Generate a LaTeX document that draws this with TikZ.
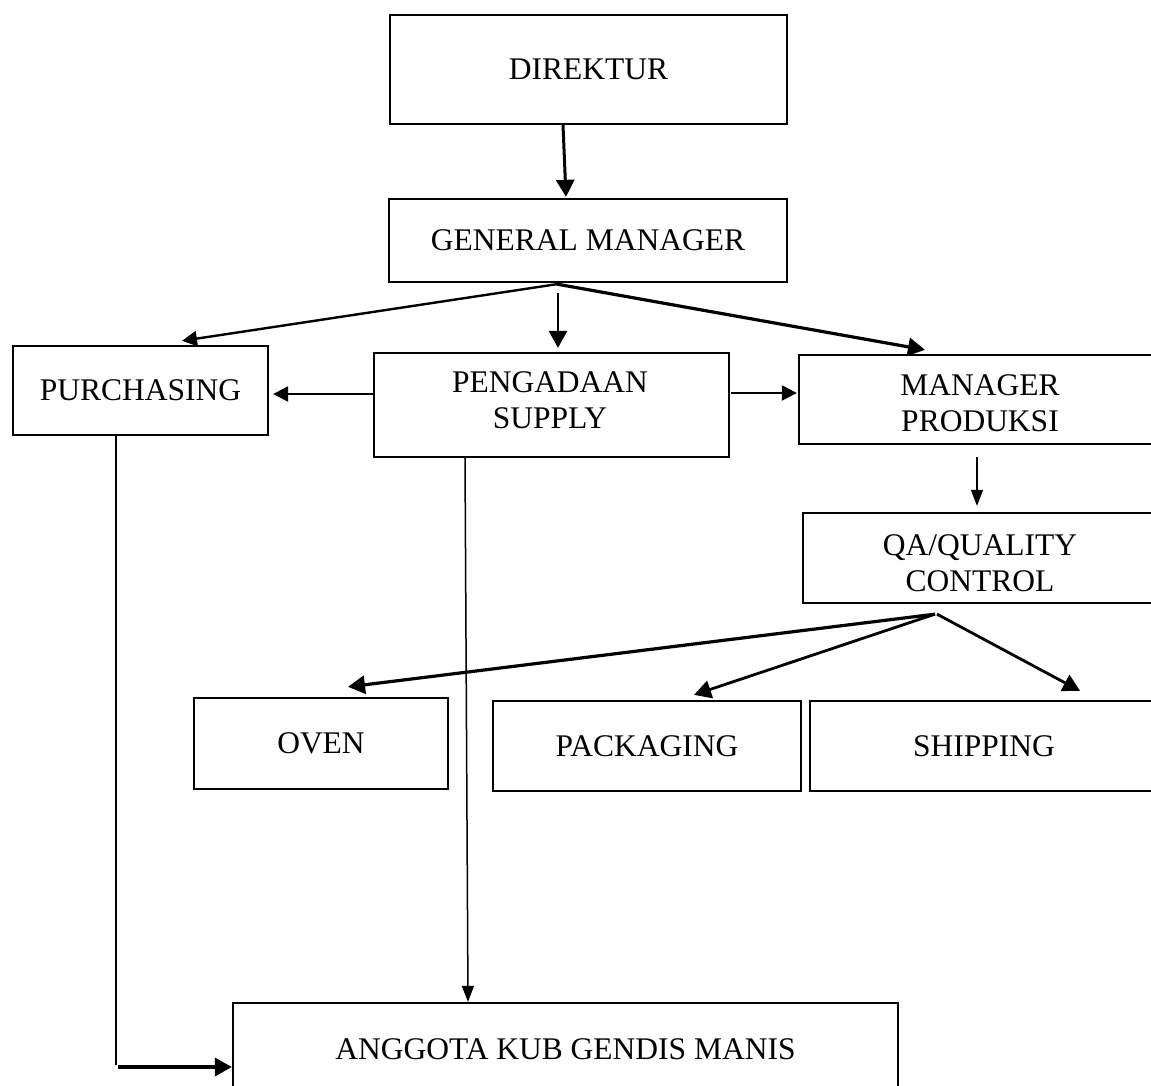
\documentclass[tikz,border=0pt]{standalone}
\usepackage{fontspec}
\setmainfont{Liberation Serif}
\usetikzlibrary{arrows.meta,calc}
\begin{document}
\begin{tikzpicture}[x=1pt,y=-1pt,
  box/.style={draw,line width=2.3pt,inner sep=0pt,align=center,font=\fontsize{31.5}{36}\selectfont},
  txt/.style={font=\fontsize{31.5}{36}\selectfont,align=center,inner sep=0pt},
  tip/.style={-{Triangle[length=17pt,width=18pt]}},
  tipmd/.style={-{Triangle[length=15pt,width=15pt]}},
  tipsm/.style={-{Triangle[length=16pt,width=12pt]}}]
\clip (0,0) rectangle (1151,1086);
\fill[white] (0,0) rectangle (1151,1086);
% boxes
\node[box,minimum width=397pt,minimum height=109pt] (dir) at (588.5,69.5) {DIREKTUR};
\node[box,minimum width=398pt,minimum height=83pt] (gm) at (588,240.5) {GENERAL MANAGER};
\node[box,minimum width=255pt,minimum height=89pt] (pur) at (140.5,390.5) {PURCHASING};
\node[box,minimum width=355pt,minimum height=104pt] (pen) at (551.5,405) {};
\node[txt] at (550,400) {PENGADAAN\\SUPPLY};
\node[box,minimum width=359pt,minimum height=89pt] (mp) at (978.5,399.5) {};
\node[txt] at (980,403) {MANAGER\\PRODUKSI};
\node[box,minimum width=355pt,minimum height=90pt] (qa) at (980.5,558) {};
\node[txt] at (980,563) {QA/QUALITY\\CONTROL};
\node[box,minimum width=254pt,minimum height=91pt] (oven) at (321,743.5) {OVEN};
\node[box,minimum width=308pt,minimum height=90pt] (pack) at (647,746) {PACKAGING};
\node[box,minimum width=348pt,minimum height=90pt] (ship) at (984,746) {SHIPPING};
\node[box,minimum width=665pt,minimum height=92pt] (ang) at (565.5,1049) {ANGGOTA KUB GENDIS MANIS};
% connectors
\draw[tip,line width=3pt] ($(dir.south)+(-25.5,0)$) -- ($(gm.north)+(-22,-1)$);
\coordinate (gmo) at ($(gm.south)+(-31,1)$);
\draw[tipmd,line width=2.4pt] (gmo) -- ($(pur.north)+(41.5,-4)$);
\draw[tip,line width=2.8pt] ($(gm.south)+(-30,10)$) -- ($(pen.north)+(6.5,-4)$);
\draw[tip,line width=3.2pt] (gmo) -- ($(mp.north)+(-53.5,-4)$);
\coordinate (a1) at ($(pen.west)+(0,-11)$);
\draw[tipmd,line width=2.2pt,shorten >=4pt] (a1) -- (a1 -| pur.east);
\coordinate (a2) at ($(pen.east)+(1,-12)$);
\draw[tipmd,line width=2.2pt,shorten >=1pt] (a2) -- (a2 -| mp.west);
\draw[tipsm,line width=1.4pt] ($(mp.south)+(-1.5,12)$) -- ($(qa.north)+(-3.5,-6)$);
\coordinate (qo) at ($(qa.south)+(-45.5,10)$);
\draw[tip,line width=3.2pt] (qo) -- ($(oven.north)+(27,-10)$);
\draw[tip,line width=2.8pt] (qo) -- ($(pack.north)+(47,-5)$);
\draw[tip,line width=2.8pt] ($(qo)+(2,0)$) -- ($(ship.north)+(96,-9)$);
\coordinate (c1) at ($(pur.south)+(-24.5,629)$);
\draw[line width=1.1pt] ($(pur.south)+(-24.5,0)$) -- (c1);
\coordinate (c2) at ($(ang.west)+(-114,18)$);
\draw[tip,line width=3.4pt] (c2) -- (c2 -| ang.west);
\draw[tipsm,line width=1.5pt] ($(pen.south)+(-86.5,0)$) -- ($(ang.north)+(-97.5,0)$);
\end{tikzpicture}
\end{document}
